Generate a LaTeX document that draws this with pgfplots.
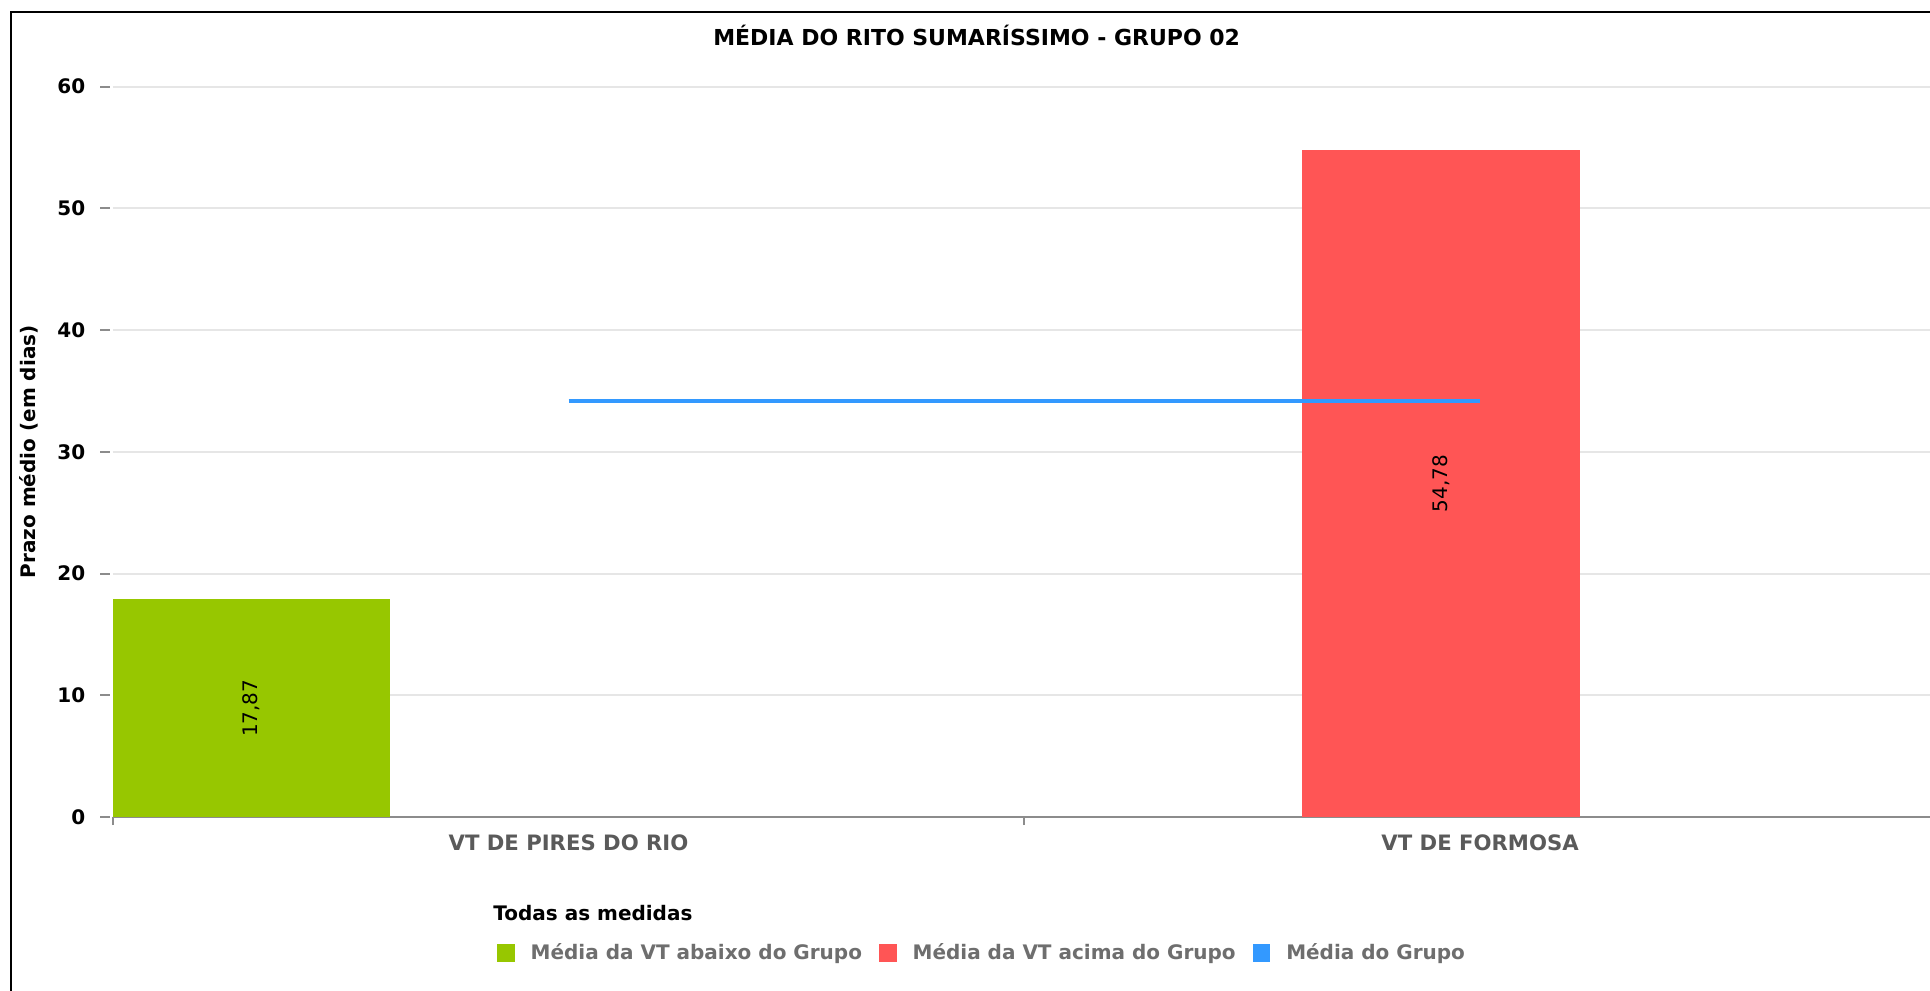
\documentclass[border=0pt]{standalone}
\usepackage{pgfplots}
\usepackage{pgfplotstable}
\pgfplotsset{compat=1.18}
\usepackage{fontspec}
\setmainfont{DejaVu Sans}
\newcommand\fs[1]{\fontsize{#1}{#1}\selectfont}
\definecolor{barGreen}{HTML}{97C700}
\definecolor{barRed}{HTML}{FF5555}
\definecolor{lineBlue}{HTML}{3399FF}
\definecolor{gridGray}{HTML}{E6E6E6}
\definecolor{axisGray}{HTML}{8C8C8C}
\definecolor{labelGray}{HTML}{5A5A5A}
\definecolor{legendGray}{HTML}{6E6E6E}

\pgfplotstableread{
x y
0.152 17.87
}\greendata
\pgfplotstableread{
x y
1.457 54.78
}\reddata
\pgfplotstableread{
x y
0.5 34.2
1.5 34.2
}\bluedata
\pgfplotstableread{
x y label
0.152 8.935 17,87
1.457 27.39 54,78
}\labeldata

\begin{document}
\begin{tikzpicture}
\useasboundingbox (-56.35pt,-86.5pt) rectangle (908.65pt,408.5pt);
\draw[line width=1pt] (-51pt,-90pt) -- (-51pt,402.65pt) -- (912pt,402.65pt);
\begin{axis}[
  at={(0pt,0pt)}, anchor=south west,
  scale only axis, width=908.65pt, height=365.15pt,
  xmin=0, xmax=1.9935, ymin=0, ymax=60,
  axis lines*=left,
  x axis line style={draw=axisGray, line width=1pt},
  y axis line style={draw=none},
  tick align=outside,
  major tick length=5pt,
  ytick={0,10,...,60},
  y tick style={draw=axisGray, line width=1pt, xshift=-1.35pt},
  ymajorgrids, grid style={draw=gridGray, line width=1pt},
  xtick={0.5,1.5},
  xticklabels={VT DE PIRES DO RIO, VT DE FORMOSA},
  x tick style={draw=none},
  extra x ticks={0,1,2},
  extra x tick labels={},
  extra x tick style={x tick style={draw=axisGray, line width=1pt}, major tick length=4pt, xmajorgrids=false},
  /pgf/number format/assume math mode=true,
  yticklabel style={anchor=east, inner sep=0pt, xshift=-8.5pt, font=\bfseries\fs{10}, text=black},
  xticklabel style={anchor=base, inner sep=0pt, yshift=-11.5pt, font=\bfseries\fs{10.6}, text=labelGray},
  title={MÉDIA DO RITO SUMARÍSSIMO - GRUPO 02},
  title style={at={(axis description cs:0.4754,1.0397)}, anchor=base, inner sep=0pt, font=\bfseries\fs{11}},
  ylabel={Prazo médio (em dias)},
  ylabel style={at={(axis description cs:-0.0461,0.5)}, anchor=center, font=\bfseries\fs{10}},
  legend style={at={(axis description cs:0.2113,-0.1857)}, anchor=west, draw=none, fill=none,
    inner sep=0pt, font=\bfseries\fs{10}, text=legendGray, legend columns=3,
    /tikz/every odd column/.append style={column sep=6pt},
    /tikz/every even column/.append style={column sep=6.5pt}},
  legend cell align=left,
]
\addplot[ybar, bar width=0.304, fill=barGreen, draw=none, forget plot] table[x=x,y=y] {\greendata};
\addplot[ybar, bar width=0.304, fill=barRed, draw=none, forget plot] table[x=x,y=y] {\reddata};
\addplot[lineBlue, line width=2pt, forget plot] table[x=x,y=y] {\bluedata};
\addplot[only marks, mark=none, forget plot, nodes near coords, point meta=explicit symbolic,
  nodes near coords style={rotate=90, anchor=center, font=\fs{10}, text=black}]
  table[x=x,y=y,meta=label] {\labeldata};
\addlegendimage{legend image code/.code={\fill[barGreen] (0pt,-4.2pt) rectangle (8.4pt,4.2pt);}}
\addlegendentry{Média da VT abaixo do Grupo}
\addlegendimage{legend image code/.code={\fill[barRed] (0pt,-4.2pt) rectangle (8.4pt,4.2pt);}}
\addlegendentry{Média da VT acima do Grupo}
\addlegendimage{legend image code/.code={\fill[lineBlue] (0pt,-4.2pt) rectangle (8.4pt,4.2pt);}}
\addlegendentry{Média do Grupo}
\end{axis}
\node[anchor=base west, inner sep=0pt, font=\bfseries\fs{10}] at (190.15pt,-51.85pt) {Todas as medidas};
\end{tikzpicture}
\end{document}
